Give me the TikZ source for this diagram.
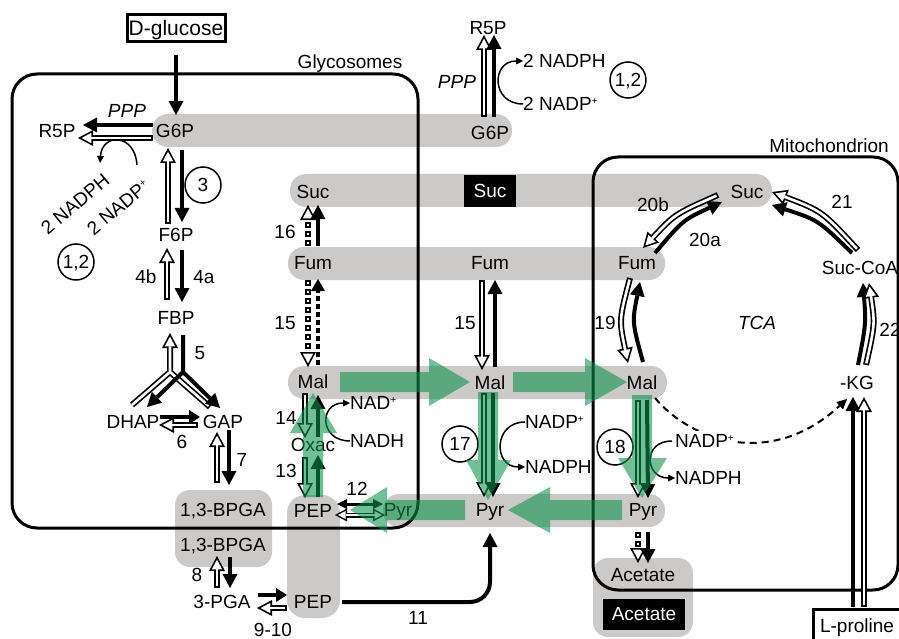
\documentclass[tikz,border=0pt]{standalone}
\usepackage{fontspec}
\setmainfont{Liberation Sans}
\usetikzlibrary{arrows.meta,calc}
\definecolor{band}{RGB}{204,202,200}
\definecolor{grn}{RGB}{10,145,75}
\newcommand{\plusup}{\raisebox{6pt}{\fontsize{10}{10}\selectfont +}}
\begin{document}
\begin{tikzpicture}[x=1pt,y=-1pt,
  every node/.style={font=\fontsize{19}{22}\selectfont, inner sep=0pt, text height=13.6pt, text depth=0pt},
  it/.style={font=\fontsize{19}{22}\selectfont\itshape},
  circ/.style={draw, circle, line width=1.5pt, minimum size=36pt},
  boxline/.style={draw=black, line width=3pt, rounded corners=25pt},
  blk/.style={draw=black, line width=4pt, -{Triangle[length=14pt,width=15pt,line width=0pt]}},
  blks/.style={draw=black, line width=4pt, -{Triangle[length=11pt,width=14pt,line width=0pt]}},
  blkd/.style={draw=black, line width=4pt, dash pattern=on 5pt off 3pt, -{Triangle[length=12pt,width=14pt,line width=0pt]}},
  blkdbl/.style={draw=black, line width=3pt, {Triangle[length=10pt,width=10pt,line width=0pt]}-{Triangle[length=10pt,width=10pt,line width=0pt]}},
  hol/.style={draw=black, line width=6pt, -{Triangle[length=15pt,width=16pt,line width=0pt]},
    postaction={draw=white, line width=2.6pt, shorten >=3.6pt, shorten <=1.7pt,
      -{Triangle[length=9.7pt,width=10.3pt,line width=0pt]}}},
  hold/.style={draw=black, line width=6pt, dash pattern=on 6pt off 3pt, -{Triangle[length=15pt,width=16pt,line width=0pt]},
    postaction={draw=white, line width=2.6pt, dash pattern=on 2.6pt off 6.4pt, dash phase=7.3pt, shorten >=3.6pt,
      -{Triangle[length=9.7pt,width=10.3pt,line width=0pt]}}},
  holdbl/.style={draw=black, line width=5pt, {Triangle[length=12pt,width=13pt,line width=0pt]}-{Triangle[length=12pt,width=13pt,line width=0pt]},
    postaction={draw=white, line width=2pt, shorten >=3pt, shorten <=3pt,
      {Triangle[length=7.5pt,width=8pt,line width=0pt]}-{Triangle[length=7.5pt,width=8pt,line width=0pt]}}},
  cof/.style={draw=black, line width=1.5pt, -{Triangle[length=7pt,width=7pt,line width=0pt]}},
  gfill/.style={fill=grn, fill opacity=0.58},
]
\useasboundingbox (0,0) rectangle (899,639);
\fill[white] (0,0) rectangle (899,639);

% grey bands
\fill[band, rounded corners=16pt] (152,114) rectangle (512,147);
\fill[band, rounded corners=16pt] (290,174) rectangle (772,207);
\fill[band, rounded corners=16pt] (288,247) rectangle (665,280);
\fill[band, rounded corners=16pt] (288,366) rectangle (667,399);
\fill[band, rounded corners=16pt] (383,494) rectangle (665,527);
\fill[band, rounded corners=15pt] (175,490) rectangle (272,567);
\fill[band, rounded corners=18pt] (287,495) rectangle (340,618);
\fill[band, rounded corners=15pt] (593,558) rectangle (693,637);

% compartments
\draw[boxline] (12,74) rectangle (418,528);
\draw[boxline] (593,157) rectangle (898,590);
\node (glyco) at (350,62) {Glycosomes};
\node (mito) at (829,146) {Mitochondrion};

% black boxes
\node[fill=black, text=white, minimum width=52pt, minimum height=32pt] (sucB) at (490,191) {Suc};
\node[fill=black, text=white, minimum width=82pt, minimum height=31pt] (acetB) at (644,614) {Acetate};

% metabolites
\node[draw, line width=3pt, minimum width=98pt, minimum height=27pt, font=\fontsize{21}{24}\selectfont, text height=15pt] (glu) at (176,28) {D-glucose};
\node (g6pL) at (175,131) {G6P};
\node (r5pL) at (57,131) {R5P};
\node[it] (pppL) at (127,111) {PPP};
\node[rotate=40] (nadphL) at (75,204) {2 NADPH};
\node[rotate=40] (nadpL) at (118,207) {2 NADP\plusup};
\node (f6p) at (176,235) {F6P};
\node (fbp) at (176,318) {FBP};
\node (dhap) at (133,422) {DHAP};
\node (gap) at (223,422) {GAP};
\node (bpga1) at (223,510) {1,3-BPGA};
\node (bpga2) at (223,545) {1,3-BPGA};
\node (pga) at (222,602) {3-PGA};
\node (pepL) at (313,602) {PEP};
\node (pepU) at (313,511) {PEP};
\node (oxac) at (313,445) {Oxac};
\node (malL) at (313,382) {Mal};
\node (fumL) at (313,263) {Fum};
\node (sucL) at (313,192) {Suc};
\node (pyrL) at (398,510) {Pyr};
\node[anchor=west] (nadL) at (350,403) {NAD\plusup};
\node[anchor=west] (nadhL) at (350,441) {NADH};
\node (g6pR) at (490,133) {G6P};
\node (r5pR) at (488,28) {R5P};
\node[it] (pppR) at (457,82) {PPP};
\node[anchor=west] (nadphR) at (523,61) {2 NADPH};
\node[anchor=west] (nadpR) at (523,104) {2 NADP\plusup};
\node (fumM) at (490,263) {Fum};
\node (malM) at (490,383) {Mal};
\node (pyrM) at (490,510) {Pyr};
\node[anchor=west] (nadpM) at (525,422) {NADP\plusup};
\node[anchor=west] (nadphM) at (525,467) {NADPH};
\node (sucR) at (747,192) {Suc};
\node (fumR) at (637,263) {Fum};
\node (malR) at (642,383) {Mal};
\node (pyrR) at (643,510) {Pyr};
\node (acet) at (643,575) {Acetate};
\node (succoa) at (860,268) {Suc-CoA};
\node (akg) at (857,383) {-KG};
\node[it] (tca) at (757,323) {TCA};
\node[draw, line width=3pt, minimum width=87pt, minimum height=37pt, text depth=4pt] (lpro) at (857,628) {L-proline};
\node[anchor=west] (nadphR2) at (675,478) {NADPH};

% dashed link Mal -> alpha-KG (behind NADP+)
\draw[draw=black, line width=2pt, dash pattern=on 7pt off 5pt, -{Triangle[length=10pt,width=10pt,line width=0pt]}]
  ($(malR)+(13,15)$) .. controls +(35,42) and +(-77,71) .. ($(akg)+(-10,16)$);
\node[anchor=west, fill=white, inner sep=3pt] (nadpR2) at (672,441) {NADP\plusup};

% circled enzyme numbers
\node[circ] (c3) at (203,185) {3};
\node[circ] (c12L) at (76,262) {1,2};
\node[circ] (c12R) at (628,80) {1,2};
\node[circ] (c17) at (460,444) {17};
\node[circ] (c18) at (615,447) {18};

% step numbers
\node (n4b) at (146,277) {4b};
\node (n4a) at (204,277) {4a};
\node (n5) at (200,353) {5};
\node (n6) at (182,442) {6};
\node (n7) at (242,460) {7};
\node (n8) at (197,575) {8};
\node (n910) at (273,630) {9-10};
\node (n11) at (418,618) {11};
\node (n12) at (357,489) {12};
\node (n13) at (286,471) {13};
\node (n14) at (286,418) {14};
\node (n15a) at (285,323) {15};
\node (n15b) at (465,323) {15};
\node (n16) at (285,232) {16};
\node (n19) at (605,323) {19};
\node (n20a) at (705,240) {20a};
\node (n20b) at (653,205) {20b};
\node (n21) at (842,202) {21};
\node (n22) at (890,330) {22};

% glycolysis
\draw[blk] ($(glu.south)+(0,12)$) -- ($(g6pL)+(1,-16)$);
\draw[blk] ($(g6pL)+(-22,-6)$) -- ($(r5pL)+(26,-6)$);
\draw[hol] ($(g6pL)+(-22,7)$) -- ($(r5pL)+(21,7)$);
\draw[cof] ($(nadpL)+(19,-42)$) .. controls +(-2,-32) and +(2,-30) .. ($(nadphL)+(25,-41)$);
\draw[hol] ($(f6p)+(-8,-11)$) -- ($(g6pL)+(-7,17)$);
\draw[blk] ($(g6pL)+(7,19)$) -- ($(f6p)+(6,-13)$);
\draw[hol] ($(fbp)+(-9,-18)$) -- ($(f6p)+(-9,13)$);
\draw[blk] ($(f6p)+(6,15)$) -- ($(fbp)+(6,-16)$);
\coordinate (yw) at ($(fbp)+(-6,54)$);
\coordinate (yb) at ($(fbp)+(7,54)$);
\draw[hol, line join=round] ($(dhap)+(-1,-17)$) -- (yw) ($(gap)+(-13,-15)$) -- (yw) -- ($(fbp)+(-6,15)$);
\draw[blk] ($(fbp)+(7,17)$) -- (yb) -- ($(dhap)+(14,-15)$);
\draw[blk] (yb) -- ($(gap)+(-3,-14)$);
\draw[blks] ($(dhap)+(27,-5)$) -- ($(gap)+(-23,-5)$);
\draw[hol] ($(gap)+(-25,3)$) -- ($(dhap)+(26,3)$);
\draw[hol] ($(bpga1)+(-6,-27)$) -- ($(gap)+(-6,10)$);
\draw[blk] ($(gap)+(6,8)$) -- ($(bpga1)+(6,-25)$);
\draw[hol] ($(pga)+(-5,-14)$) -- ($(bpga2)+(-6,11)$);
\draw[blk] ($(bpga2)+(7,12)$) -- ($(pga)+(8,-14)$);
\draw[blks] ($(pga)+(36,-7)$) -- ($(pepL)+(-26,-7)$);
\draw[hol] ($(pepL)+(-26,6)$) -- ($(pga)+(35,6)$);
\draw[blk, rounded corners=20pt] ($(pepL)+(29,0)$) -- ($(pyrM)+(0,92)$) -- ($(pyrM)+(0,23)$);

% left column
\draw[hold] ($(fumL)+(-5,-17)$) -- ($(sucL)+(-5,13)$);
\draw[blk] ($(fumL)+(5,-17)$) -- ($(sucL)+(5,13)$);
\draw[hold] ($(fumL)+(-5,17)$) -- ($(malL)+(-5,-15)$);
\draw[blkd] ($(malL)+(5,-17)$) -- ($(fumL)+(5,16)$);
\draw[hol] ($(malL)+(-8,11)$) -- ($(oxac)+(-8,-7)$);
\draw[blk] ($(oxac)+(5,-8)$) -- ($(malL)+(5,13)$);
\draw[hol] ($(oxac)+(-8,12)$) -- ($(pepU)+(-8,-13)$);
\draw[blk] ($(pepU)+(5,-14)$) -- ($(oxac)+(5,10)$);
\draw[blkdbl] ($(pepU)+(24,-7)$) -- ($(pyrL)+(-15,-6)$);
\draw[holdbl] ($(pepU)+(22,4)$) -- ($(pyrL)+(-13,5)$);
\draw[cof] (nadhL.west) .. controls +(-31,0) and +(-31,0) .. (nadL.west);

% middle column
\draw[hol] ($(g6pR)+(-6,-16)$) -- ($(r5pR)+(-4,7)$);
\draw[blk] ($(g6pR)+(4,-16)$) -- ($(r5pR)+(6,7)$);
\draw[cof] (nadpR.west) .. controls +(-32,0) and +(-32,0) .. (nadphR.west);
\draw[hol] ($(fumM)+(-8,17)$) -- ($(malM)+(-8,-13)$);
\draw[blk] ($(malM)+(5,-16)$) -- ($(fumM)+(5,17)$);
\draw[hol] ($(malM)+(-6,10)$) -- ($(pyrM)+(-6,-13)$);
\draw[blk] ($(malM)+(3,10)$) -- ($(pyrM)+(3,-13)$);
\draw[cof] (nadpM.west) .. controls +(-32,0) and +(-32,0) .. (nadphM.west);

% mitochondrion
\draw[hol] ($(malR)+(-4,17)$) -- ($(pyrR)+(-5,-12)$);
\draw[blk] ($(malR)+(5,17)$) -- ($(pyrR)+(5,-12)$);
\draw[cof] (nadpR2.west) .. controls +(-30,0) and +(-30,0) .. (nadphR2.west);
\draw[hold] ($(pyrR)+(-5,22)$) -- ($(acet)+(-5,-12)$);
\draw[blk] ($(pyrR)+(5,22)$) -- ($(acet)+(5,-12)$);
\draw[blk] ($(akg)+(1,-18)$) .. controls (866,324) .. ($(succoa)+(3,15)$);
\draw[hol] ($(akg)+(9,-18)$) .. controls (875,324) .. ($(succoa)+(9,15)$);
\draw[blk] ($(succoa)+(-8,-15)$) .. controls (818,220) .. ($(sucR)+(25,13)$);
\draw[hol] ($(succoa)+(-2,-18)$) .. controls (822,211) .. ($(sucR)+(25,0)$);
\draw[blk] ($(fumR)+(18,-10)$) .. controls (683,220) .. ($(sucR)+(-25,10)$);
\draw[hol] ($(sucR)+(-29,3)$) .. controls (675,214) .. ($(fumR)+(6,-15)$);
\draw[blk] ($(malR)+(1,-21)$) .. controls (632,322) .. ($(fumR)+(3,19)$);
\draw[hol] ($(fumR)+(-7,15)$) .. controls (619,320) .. ($(malR)+(-14,-20)$);
\draw[blk] ($(lpro)+(-4,-21)$) -- ($(akg)+(-4,14)$);
\draw[hol] ($(lpro)+(7,-21)$) -- ($(akg)+(7,14)$);

% green flux arrows
\fill[gfill] (340,372) -- (429,372) -- (429,358) -- (470,382) -- (429,406) -- (429,392) -- (340,392) -- cycle;
\fill[gfill] (513,372) -- (585,372) -- (585,358) -- (627,382) -- (585,406) -- (585,392) -- (513,392) -- cycle;
\fill[gfill] (622,500) -- (550,500) -- (550,487) -- (508,510) -- (550,533) -- (550,520) -- (622,520) -- cycle;
\fill[gfill] (465,500) -- (387,500) -- (387,487) -- (350,510) -- (387,533) -- (387,520) -- (465,520) -- cycle;
\fill[gfill] (478,392) -- (478,460) -- (466,460) -- (488,500) -- (511,460) -- (498,460) -- (498,392) -- cycle;
\fill[gfill] (632,395) -- (632,458) -- (618,458) -- (642,498) -- (667,458) -- (652,458) -- (652,395) -- cycle;
\fill[gfill] (303,497) -- (303,433) -- (290,433) -- (313,393) -- (337,433) -- (323,433) -- (323,497) -- cycle;
\end{tikzpicture}
\end{document}
